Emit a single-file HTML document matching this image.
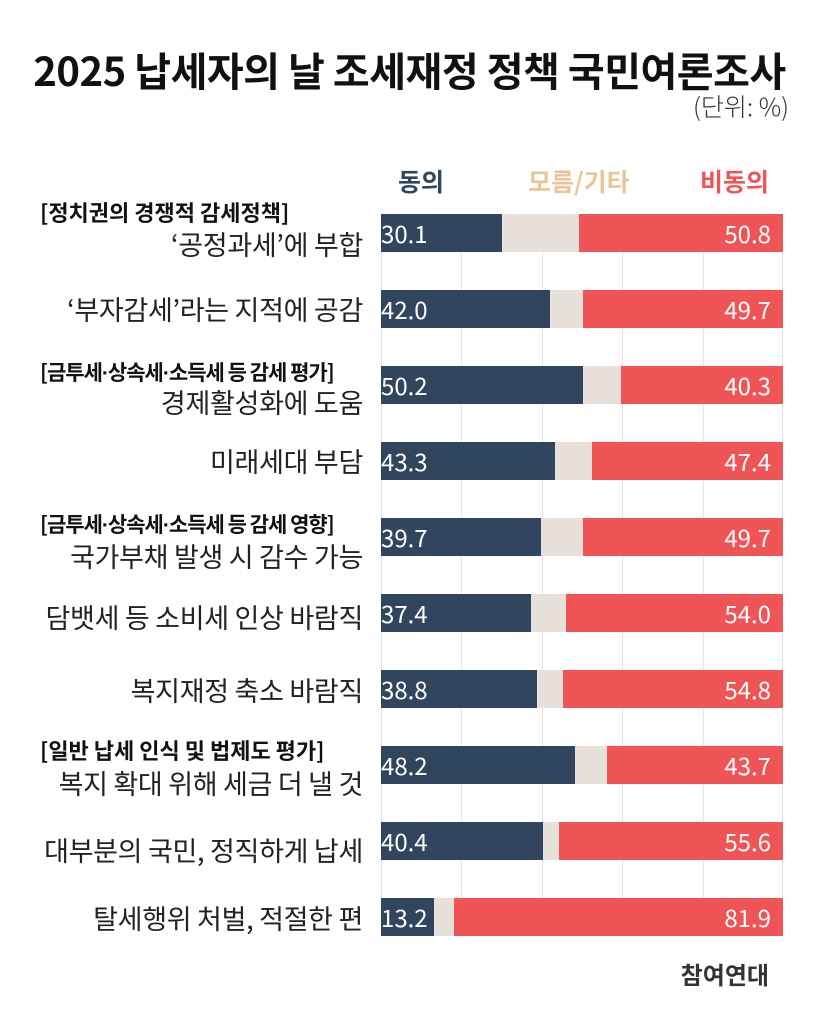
<!DOCTYPE html>
<html><head><meta charset="utf-8"><style>
body{margin:0;width:819px;height:1024px;background:#fff;position:relative;overflow:hidden;font-family:"Noto Sans CJK KR","Liberation Sans",sans-serif;}
.a{position:absolute;white-space:nowrap;line-height:1;}
.t{left:0;width:819px;text-align:center;top:49px;font-size:40px;font-weight:bold;color:#111;letter-spacing:-0.5px;}
.u{right:30px;top:94px;font-size:25px;color:#333;font-weight:300;}
.lg{top:169px;font-size:25px;font-weight:bold;}
.g{position:absolute;top:214px;width:1px;height:722px;background:#e4e4e4;}
.bar{position:absolute;left:381px;width:402px;height:38px;background:#e8e0da;}
.ag{position:absolute;left:0;top:0;height:38px;background:#31465e;}
.dg{position:absolute;right:0;top:0;height:38px;background:#ef5556;}
.v1{position:absolute;left:0;top:0;line-height:38px;font-size:24px;color:#fff;}
.v2{position:absolute;right:12px;top:0;line-height:38px;font-size:24px;color:#fff;}
.h{left:40px;font-size:22px;font-weight:bold;color:#111;}
.h2{letter-spacing:-1px;font-size:21px;}
.d{font-family:"Liberation Sans",sans-serif;}
.l{right:456px;font-size:27px;color:#222;letter-spacing:-0.3px;}
.logo{right:50px;top:962px;font-size:24px;font-weight:bold;color:#333;}
</style></head><body>
<div class="a t">2025 납세자의 날 조세재정 정책 국민여론조사</div>
<div class="a u">(단위: %)</div>
<div class="a lg" style="left:398px;color:#31465e">동의</div>
<div class="a lg" style="left:528px;color:#e8c795">모름/기타</div>
<div class="a lg" style="left:700px;color:#ef5556">비동의</div>
<div class="g" style="left:381px"></div><div class="g" style="left:461px"></div><div class="g" style="left:542px"></div><div class="g" style="left:622px"></div><div class="g" style="left:703px"></div><div class="g" style="left:782px"></div>

<div class="bar" style="top:214px"><div class="ag" style="width:121px"></div><div class="dg" style="width:204px"></div><div class="v1">30.1</div><div class="v2">50.8</div></div>
<div class="bar" style="top:290px"><div class="ag" style="width:169px"></div><div class="dg" style="width:200px"></div><div class="v1">42.0</div><div class="v2">49.7</div></div>
<div class="bar" style="top:366px"><div class="ag" style="width:202px"></div><div class="dg" style="width:162px"></div><div class="v1">50.2</div><div class="v2">40.3</div></div>
<div class="bar" style="top:442px"><div class="ag" style="width:174px"></div><div class="dg" style="width:191px"></div><div class="v1">43.3</div><div class="v2">47.4</div></div>
<div class="bar" style="top:518px"><div class="ag" style="width:160px"></div><div class="dg" style="width:200px"></div><div class="v1">39.7</div><div class="v2">49.7</div></div>
<div class="bar" style="top:594px"><div class="ag" style="width:150px"></div><div class="dg" style="width:217px"></div><div class="v1">37.4</div><div class="v2">54.0</div></div>
<div class="bar" style="top:670px"><div class="ag" style="width:156px"></div><div class="dg" style="width:220px"></div><div class="v1">38.8</div><div class="v2">54.8</div></div>
<div class="bar" style="top:746px"><div class="ag" style="width:194px"></div><div class="dg" style="width:176px"></div><div class="v1">48.2</div><div class="v2">43.7</div></div>
<div class="bar" style="top:822px"><div class="ag" style="width:162px"></div><div class="dg" style="width:224px"></div><div class="v1">40.4</div><div class="v2">55.6</div></div>
<div class="bar" style="top:898px"><div class="ag" style="width:53px"></div><div class="dg" style="width:329px"></div><div class="v1">13.2</div><div class="v2">81.9</div></div>

<div class="a h" style="top:201px">[정치권의 경쟁적 감세정책]</div>
<div class="a l" style="top:230px">‘공정과세’에 부합</div>
<div class="a l" style="top:295px">‘부자감세’라는 지적에 공감</div>
<div class="a h h2" style="top:362px">[금투세<span class="d">·</span>상속세<span class="d">·</span>소득세 등 감세 평가]</div>
<div class="a l" style="top:388px">경제활성화에 도움</div>
<div class="a l" style="top:447px">미래세대 부담</div>
<div class="a h h2" style="top:514px">[금투세<span class="d">·</span>상속세<span class="d">·</span>소득세 등 감세 영향]</div>
<div class="a l" style="top:542px">국가부채 발생 시 감수 가능</div>
<div class="a l" style="top:603px">담뱃세 등 소비세 인상 바람직</div>
<div class="a l" style="top:676px">복지재정 축소 바람직</div>
<div class="a h" style="top:739px">[일반 납세 인식 및 법제도 평가]</div>
<div class="a l" style="top:769px">복지 확대 위해 세금 더 낼 것</div>
<div class="a l" style="top:836px">대부분의 국민, 정직하게 납세</div>
<div class="a l" style="top:904px">탈세행위 처벌, 적절한 편</div>
<div class="a logo">참여연대</div>
</body></html>
